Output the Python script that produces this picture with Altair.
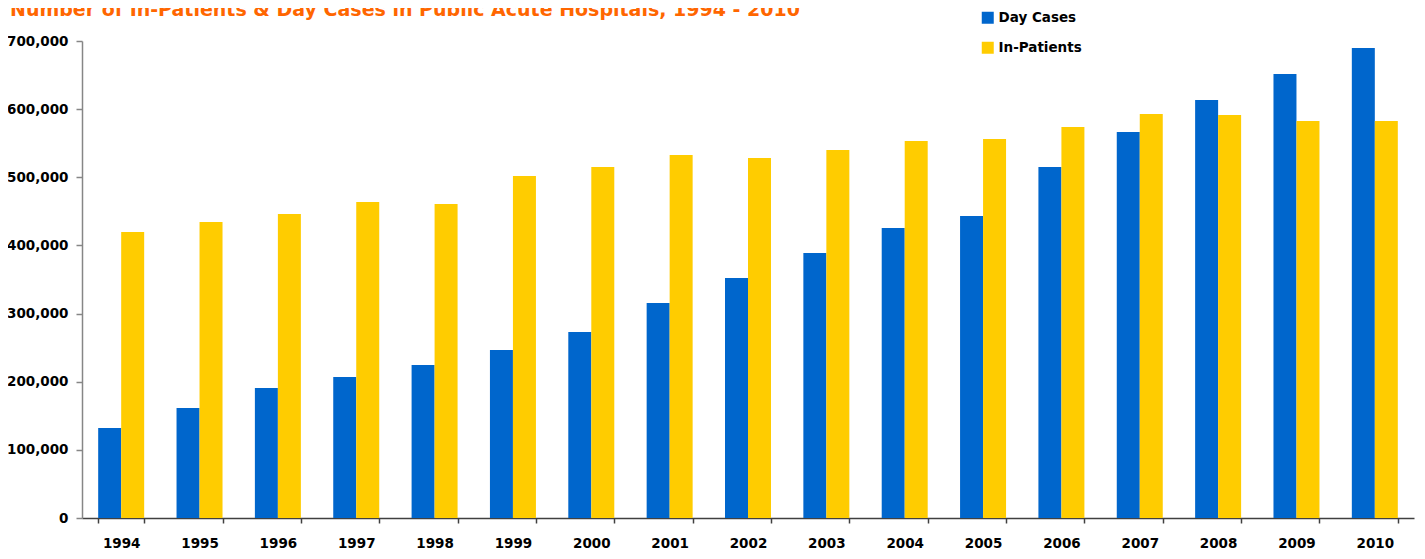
import altair as alt
import pandas as pd

years = [str(y) for y in range(1994, 2011)]
day_cases = [132000, 161400, 190800, 206900, 224500, 246500, 273000, 315500,
             352200, 388900, 425600, 443200, 515100, 566500, 613400, 651600, 689700]
in_patients = [419700, 434400, 446100, 463700, 460800, 501900, 515100, 532700,
               528300, 540000, 553200, 556200, 573800, 592900, 591400, 582600, 582600]
series = ["Day Cases", "In-Patients"]
colors = ["#0066CC", "#FFCC00"]
title_text = "Number of In-Patients & Day Cases in Public Acute Hospitals, 1994 - 2010"

rows = []
for i, y in enumerate(years):
    rows.append({"Year": y, "Series": series[0], "Value": day_cases[i]})
    rows.append({"Year": y, "Series": series[1], "Value": in_patients[i]})
df = pd.DataFrame(rows)

FONT = "DejaVu Sans"

bars = alt.Chart(df).mark_bar().encode(
    x=alt.X("Year:N", sort=years, title=None,
            scale=alt.Scale(paddingInner=0.413, paddingOuter=0.2065),
            axis=alt.Axis(labelAngle=0, tickBand="extent", tickSize=5,
                          labelPadding=13, labelFont=FONT, labelFontSize=13.5,
                          labelFontWeight="bold", labelColor="#000000",
                          domainColor="#404040", domainWidth=1.5,
                          tickColor="#404040", tickWidth=1.5, grid=False)),
    xOffset=alt.XOffset("Series:N", sort=series, scale=alt.Scale(paddingInner=0, paddingOuter=0)),
    y=alt.Y("Value:Q", title=None,
            scale=alt.Scale(domain=[0, 700000], nice=False),
            axis=alt.Axis(values=list(range(0, 700001, 100000)), format=",.0f",
                          tickSize=6, labelPadding=8, labelFont=FONT, labelFontSize=13.5,
                          labelFontWeight="bold", labelColor="#000000",
                          domainColor="#868686", domainWidth=1.5,
                          tickColor="#868686", tickWidth=1.5, grid=False)),
    color=alt.Color("Series:N", sort=series,
                    scale=alt.Scale(domain=series, range=colors),
                    legend=alt.Legend(title=None, orient="none", legendX=899, legendY=-30,
                                      symbolType="square", symbolSize=144,
                                      symbolStrokeWidth=0, labelFont=FONT,
                                      labelFontSize=13.5, labelFontWeight="bold",
                                      labelColor="#000000", labelOffset=4,
                                      rowPadding=15, padding=0)),
)

title = alt.Chart(pd.DataFrame({"t": [title_text]})).mark_text(
    align="left", baseline="alphabetic", font=FONT, fontSize=19,
    fontWeight="bold", color="#FF6600"
).encode(x=alt.value(-72), y=alt.value(-25), text="t:N")

chart = alt.layer(bars, title).properties(
    width=1332, height=477,
    autosize=alt.AutoSizeParams(type="none"),
    padding={"left": 74, "top": 33, "right": 3, "bottom": 33},
).configure_view(stroke=None)

chart.save("out.html", embed_options={"renderer": "svg", "actions": False})
